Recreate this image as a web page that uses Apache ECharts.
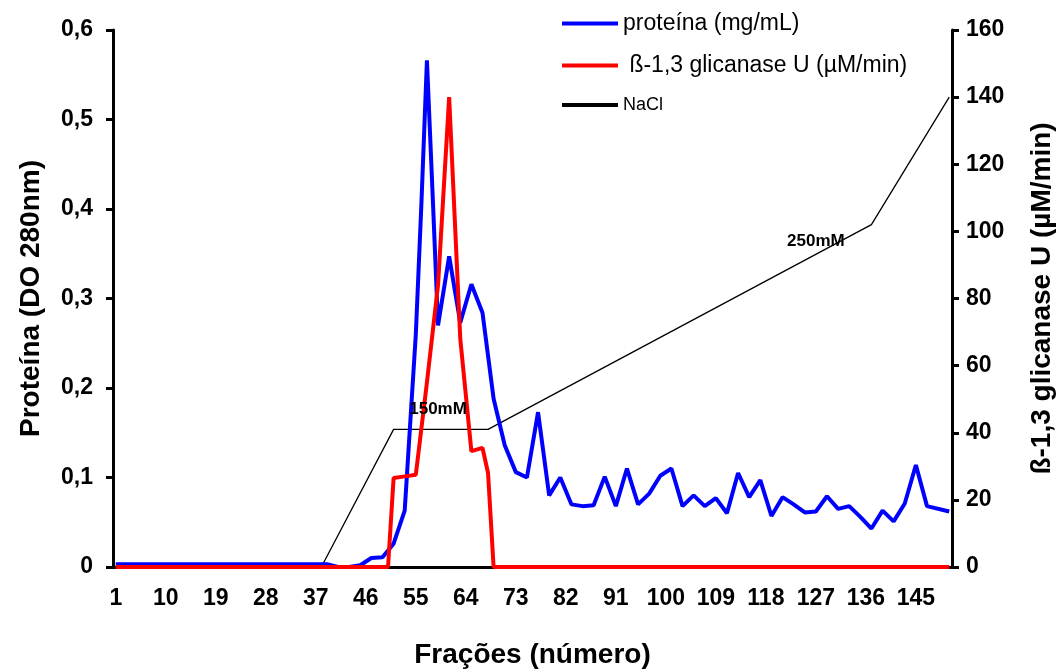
<!DOCTYPE html>
<html>
<head>
<meta charset="utf-8">
<script src="https://cdn.jsdelivr.net/npm/echarts@6/dist/echarts.min.js"></script>
<style>
  html, body { margin: 0; padding: 0; background: #fff; }
  #chart { width: 1060px; height: 670px; }
</style>
</head>
<body>
<div id="chart"></div>
<script>
// fraction numbers on the x axis
const fractions = Array.from({ length: 151 }, (_, i) => String(i + 1));

// protein (DO 280nm), [fraction, value]
const protein = [
  [1, 0.003], [3, 0.003], [5, 0.003], [7, 0.003], [9, 0.003], [11, 0.003], [13, 0.003],
  [15, 0.003], [17, 0.003], [19, 0.003], [21, 0.003], [23, 0.003], [25, 0.003], [27, 0.003],
  [29, 0.003], [31, 0.003], [33, 0.003], [35, 0.003], [37, 0.003], [39, 0.003],
  [41, 0.0], [43, 0.0], [45, 0.002], [47, 0.01], [49, 0.011], [51, 0.026], [53, 0.063],
  [55, 0.26], [56, 0.405], [57, 0.566], [58, 0.42], [59, 0.27], [61, 0.347], [63, 0.273],
  [65, 0.316], [67, 0.284], [69, 0.188], [71, 0.136], [73, 0.106], [75, 0.1], [77, 0.173],
  [79, 0.08], [81, 0.1], [83, 0.07], [85, 0.068], [87, 0.069], [89, 0.101], [91, 0.068],
  [93, 0.11], [95, 0.07], [97, 0.082], [99, 0.102], [101, 0.11], [103, 0.068], [105, 0.08],
  [107, 0.068], [109, 0.077], [111, 0.06], [113, 0.105], [115, 0.078], [117, 0.097],
  [119, 0.057], [121, 0.078], [123, 0.07], [125, 0.061], [127, 0.062], [129, 0.079],
  [131, 0.065], [133, 0.068], [135, 0.056], [137, 0.043], [139, 0.063], [141, 0.051],
  [143, 0.071], [145, 0.114], [147, 0.068], [151, 0.062]
];

// ß-1,3 glicanase activity (µM/min), [fraction, value]
const glucanase = [
  [1, 0], [50, 0], [51, 26.5], [53, 27], [55, 27.5], [57, 55], [59, 84], [61, 140],
  [63, 68], [65, 34.5], [67, 35.5], [68, 28], [69, 0], [151, 0]
];

// NaCl gradient, drawn on the right scale, [fraction, value]
const nacl = [[38, 0], [51, 41], [68, 41], [137, 102], [151, 140]];

// gradient step annotations
const saltLabels = [
  { text: '150mM', at: [59, 47] },
  { text: '250mM', at: [127, 97] }
];

const toPoints = arr => arr.map(([f, v]) => [f - 1, v]);

const chart = echarts.init(document.getElementById('chart'));
const font = 'Liberation Sans, Arial, sans-serif';

chart.setOption({
  animation: false,
  textStyle: { fontFamily: font },
  grid: { left: 113, right: 108, top: 30, bottom: 103, outerBoundsMode: 'none' },
  legend: {
    orient: 'vertical',
    left: 562,
    top: 12,
    padding: 0,
    itemWidth: 56,
    itemHeight: 4,
    itemGap: 19,
    icon: 'rect',
    textStyle: { fontSize: 23, color: '#000', fontFamily: font },
    data: [
      { name: 'proteína (mg/mL)' },
      { name: ' ß-1,3 glicanase U (µM/min)' },
      { name: 'NaCl', textStyle: { fontSize: 18 } }
    ]
  },
  xAxis: {
    type: 'category',
    data: fractions,
    boundaryGap: true,
    name: 'Frações (número)',
    nameLocation: 'middle',
    nameGap: 74,
    nameTextStyle: { fontSize: 28, fontWeight: 'bold', color: '#000' },
    axisLine: { lineStyle: { color: '#000', width: 3 } },
    axisTick: { interval: 9, length: 7, lineStyle: { color: '#000', width: 3 } },
    axisLabel: { interval: 8, fontSize: 23, fontWeight: 'bold', color: '#000', margin: 20 },
    splitLine: { show: false }
  },
  yAxis: [
    {
      type: 'value',
      min: 0, max: 0.6, interval: 0.1,
      name: 'Proteína (DO 280nm)',
      nameLocation: 'middle',
      nameRotate: 90,
      nameGap: 68,
      nameTextStyle: { fontSize: 28, fontWeight: 'bold', color: '#000' },
      axisLine: { show: true, lineStyle: { color: '#000', width: 3 } },
      axisTick: { show: true, length: 7, lineStyle: { color: '#000', width: 3 } },
      axisLabel: {
        fontSize: 23, fontWeight: 'bold', color: '#000', margin: 20,
        formatter: v => (v === 0 ? '0' : v.toFixed(1).replace('.', ','))
      },
      splitLine: { show: false }
    },
    {
      type: 'value',
      min: 0, max: 160, interval: 20,
      name: 'ß-1,3 glicanase U (µM/min)',
      nameLocation: 'middle',
      nameRotate: 90,
      nameGap: 76,
      nameTextStyle: { fontSize: 28, fontWeight: 'bold', color: '#000' },
      axisLine: { show: true, lineStyle: { color: '#000', width: 3 } },
      axisTick: { show: true, length: 7, lineStyle: { color: '#000', width: 3 } },
      axisLabel: { fontSize: 23, fontWeight: 'bold', color: '#000', margin: 14 },
      splitLine: { show: false }
    }
  ],
  series: [
    {
      name: 'NaCl',
      type: 'line',
      yAxisIndex: 1,
      data: toPoints(nacl),
      symbol: 'none',
      z: 1,
      lineStyle: { color: '#000', width: 1.3 },
      itemStyle: { color: '#000' },
      markPoint: {
        symbol: 'circle',
        symbolSize: 0,
        label: { show: true, color: '#000', fontSize: 17, fontWeight: 'bold', fontFamily: font },
        data: saltLabels.map(s => ({
          coord: [s.at[0] - 1, s.at[1]],
          label: { formatter: s.text }
        }))
      }
    },
    {
      name: 'proteína (mg/mL)',
      type: 'line',
      yAxisIndex: 0,
      data: toPoints(protein),
      symbol: 'none',
      z: 2,
      lineStyle: { color: '#0000ff', width: 4 },
      itemStyle: { color: '#0000ff' }
    },
    {
      name: ' ß-1,3 glicanase U (µM/min)',
      type: 'line',
      yAxisIndex: 1,
      data: toPoints(glucanase),
      symbol: 'none',
      z: 3,
      lineStyle: { color: '#ff0000', width: 4 },
      itemStyle: { color: '#ff0000' }
    }
  ]
});

window.addEventListener('resize', chart.resize);
</script>
</body>
</html>
